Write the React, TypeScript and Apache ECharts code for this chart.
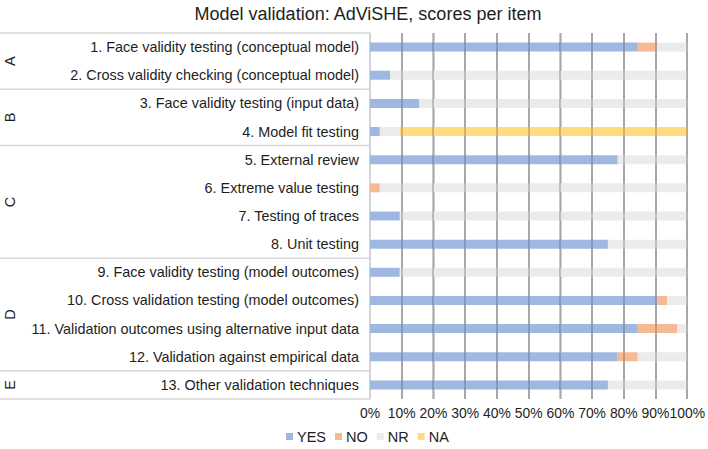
import React, { useEffect, useRef } from "react";
import * as echarts from "echarts";

const categories = [
  "1. Face validity testing (conceptual model)",
  "2. Cross validity checking (conceptual model)",
  "3. Face validity testing (input data)",
  "4. Model fit testing",
  "5. External review",
  "6. Extreme value testing",
  "7. Testing of traces",
  "8. Unit testing",
  "9. Face validity testing (model outcomes)",
  "10. Cross validation testing (model outcomes)",
  "11. Validation outcomes using alternative input data",
  "12. Validation against empirical data",
  "13. Other validation techniques",
];
const yesValues = [84.4, 6.3, 15.6, 3.1, 78.1, 0, 9.4, 75, 9.4, 90.6, 84.4, 78.1, 75];
const noValues = [6.2, 0, 0, 0, 0, 3.1, 0, 0, 0, 3.1, 12.5, 6.3, 0];
const nrValues = [9.4, 93.7, 84.4, 6.3, 21.9, 96.9, 90.6, 25, 90.6, 6.3, 3.1, 15.6, 25];
const naValues = [0, 0, 0, 90.6, 0, 0, 0, 0, 0, 0, 0, 0, 0];
const groupLabels = ["A", "B", "C", "D", "E"];
const groupSizes = [2, 2, 4, 4, 1];
const xTicks = [0, 10, 20, 30, 40, 50, 60, 70, 80, 90, 100];

const FONT = "'Liberation Sans', Arial, sans-serif";
const TEXT = "#1e1e1e";

export default function App() {
  const ref = useRef<HTMLDivElement>(null);
  useEffect(() => {
    if (!ref.current) return;
    const chart = echarts.init(ref.current, undefined, { renderer: "svg" });
    const barW = 9;
    const mk = (name: string, data: number[], color: string) => ({
      name,
      type: "bar",
      stack: "s",
      data,
      barWidth: barW,
      itemStyle: { color },
      emphasis: { disabled: true },
    });
    chart.setOption({
      animation: false,
      textStyle: { fontFamily: FONT },
      title: {
        text: "Model validation: AdViSHE, scores per item",
        left: 363,
        textAlign: "center",
        top: 0,
        textStyle: { fontSize: 18, fontWeight: "normal", color: TEXT, fontFamily: FONT },
      },
      legend: {
        bottom: 0,
        left: 281,
        itemWidth: 7,
        itemHeight: 7,
        itemGap: 9,
        icon: "rect",
        textStyle: { fontSize: 14.5, color: TEXT, fontFamily: FONT, padding: [0, 0, 0, -1] },
        data: ["YES", "NO", "NR", "NA"],
      },
      grid: { left: 370, right: 18, top: 33, bottom: 50, containLabel: false },
      xAxis: {
        type: "value",
        min: 0,
        max: 100,
        interval: 10,
        axisLine: { show: false },
        axisTick: { show: false },
        axisLabel: {
          formatter: (v: number) => (xTicks.includes(v) ? v + "%" : ""),
          fontSize: 13.9,
          color: TEXT,
          margin: 7,
          fontFamily: FONT,
          showMaxLabel: true,
          showMinLabel: true,
          hideOverlap: false,
        },
        splitLine: { show: true, lineStyle: { color: "#bdbdbd", width: 1.5, type: "solid" } },
      },
      yAxis: {
        type: "category",
        data: categories,
        inverse: true,
        axisLine: { show: true, lineStyle: { color: "#d6d6d6", width: 1.5 } },
        axisTick: { show: false },
        axisLabel: { fontSize: 14.4, color: TEXT, margin: 11, fontFamily: FONT },
      },
      series: [
        mk("YES", yesValues, "#9fb8e2"),
        mk("NO", noValues, "#f5ba93"),
        mk("NR", nrValues, "#ebebeb"),
        mk("NA", naValues, "#ffdd7d"),
      ],
    });

    const py = (i: number) => (chart.convertToPixel({ gridIndex: 0 }, [0, i]) as number[])[1];
    const pxRaw = (v: number) => (chart.convertToPixel({ gridIndex: 0 }, [v, 0]) as number[])[0];
    const px = (v: number) => {
      const r = pxRaw(v);
      return Number.isFinite(r) ? r : 370 + (v / 100) * 320;
    };
    const half = (py(1) - py(0)) / 2;
    const plotTop = py(0) - half;
    const plotBottom = py(categories.length - 1) + half;
    const graphics: any[] = [];
    xTicks.slice(1).forEach((v) => {
      const x = Math.round(px(v));
      graphics.push({
        type: "line",
        z: 100,
        shape: { x1: x, y1: plotTop, x2: x, y2: plotBottom },
        style: { stroke: "rgba(80,80,80,0.3)", lineWidth: 2 },
        silent: true,
      });
    });
    let idx = 0;
    const lineStyle = { stroke: "#d6d6d6", lineWidth: 1.5 };
    graphics.push({
      type: "line",
      shape: { x1: 0, y1: plotTop, x2: 370, y2: plotTop },
      style: lineStyle,
      silent: true,
    });
    groupLabels.forEach((g, gi) => {
      const start = idx;
      const end = idx + groupSizes[gi] - 1;
      const yTop = py(start) - half;
      const yBot = py(end) + half;
      graphics.push({
        type: "line",
        shape: { x1: 0, y1: yBot, x2: 370, y2: yBot },
        style: lineStyle,
        silent: true,
      });
      graphics.push({
        type: "text",
        x: 10,
        y: (yTop + yBot) / 2,
        rotation: Math.PI / 2,
        style: {
          text: g,
          fontSize: 14.5,
          fill: TEXT,
          fontFamily: FONT,
          align: "center",
          verticalAlign: "middle",
        },
        silent: true,
      });
      idx = end + 1;
    });
    chart.setOption({ graphic: graphics });
    return () => chart.dispose();
  }, []);
  return <div ref={ref} style={{ width: 708, height: 449, position: "absolute", left: 0, top: 0 }} />;
}
